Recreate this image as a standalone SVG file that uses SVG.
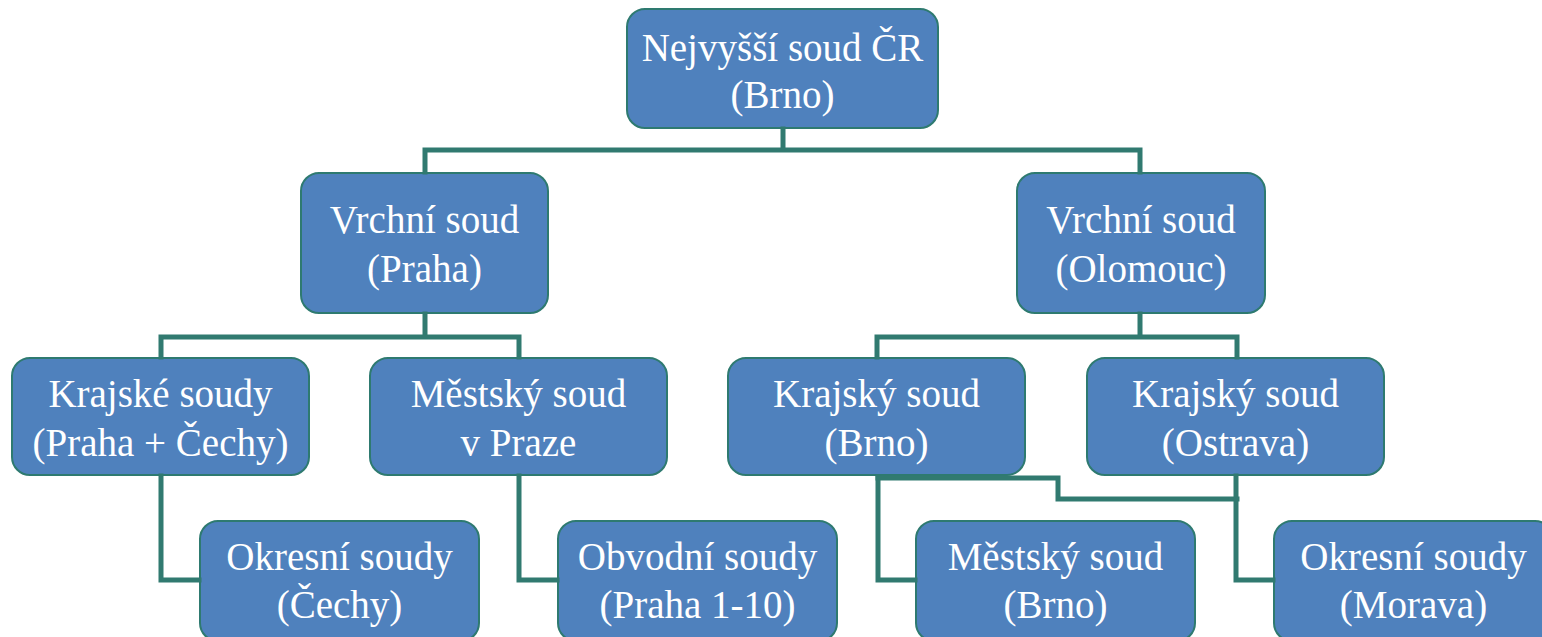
<svg xmlns="http://www.w3.org/2000/svg" width="1542" height="637" viewBox="0 0 1542 637">
<rect width="1542" height="637" fill="#FFFFFF"/>
<g id="nodes" font-family="Liberation Serif" font-size="39" text-anchor="middle" stroke-width="2">
<g id="n-nejvyssi"><rect fill="#4F81BD" stroke="#2E7A70" x="627" y="9" width="311" height="119" rx="18"/><text fill="#FFFFFF" x="782.5" y="61">Nejvyšší soud ČR</text><text fill="#FFFFFF" x="782.5" y="108">(Brno)</text></g>
<g id="n-vrchni-praha"><rect fill="#4F81BD" stroke="#2E7A70" x="301" y="173" width="247" height="140" rx="18"/><text fill="#FFFFFF" x="424.5" y="233">Vrchní soud</text><text fill="#FFFFFF" x="424.5" y="282">(Praha)</text></g>
<g id="n-vrchni-olomouc"><rect fill="#4F81BD" stroke="#2E7A70" x="1017" y="173" width="248" height="140" rx="18"/><text fill="#FFFFFF" x="1141" y="233">Vrchní soud</text><text fill="#FFFFFF" x="1141" y="282">(Olomouc)</text></g>
<g id="n-krajske"><rect fill="#4F81BD" stroke="#2E7A70" x="12" y="358" width="297" height="117" rx="18"/><text fill="#FFFFFF" x="160.5" y="407">Krajské soudy</text><text fill="#FFFFFF" x="160.5" y="456">(Praha + Čechy)</text></g>
<g id="n-mestsky-praha"><rect fill="#4F81BD" stroke="#2E7A70" x="370" y="358" width="297" height="117" rx="18"/><text fill="#FFFFFF" x="518.5" y="407">Městský soud</text><text fill="#FFFFFF" x="518.5" y="456">v Praze</text></g>
<g id="n-krajsky-brno"><rect fill="#4F81BD" stroke="#2E7A70" x="728" y="358" width="297" height="117" rx="18"/><text fill="#FFFFFF" x="876.5" y="407">Krajský soud</text><text fill="#FFFFFF" x="876.5" y="456">(Brno)</text></g>
<g id="n-krajsky-ostrava"><rect fill="#4F81BD" stroke="#2E7A70" x="1087" y="358" width="297" height="117" rx="18"/><text fill="#FFFFFF" x="1235.5" y="407">Krajský soud</text><text fill="#FFFFFF" x="1235.5" y="456">(Ostrava)</text></g>
<g id="n-okresni-cechy"><rect fill="#4F81BD" stroke="#2E7A70" x="200" y="521" width="279" height="120" rx="18"/><text fill="#FFFFFF" x="339.5" y="570">Okresní soudy</text><text fill="#FFFFFF" x="339.5" y="618">(Čechy)</text></g>
<g id="n-obvodni"><rect fill="#4F81BD" stroke="#2E7A70" x="558" y="521" width="279" height="120" rx="18"/><text fill="#FFFFFF" x="697.5" y="570">Obvodní soudy</text><text fill="#FFFFFF" x="697.5" y="618">(Praha 1-10)</text></g>
<g id="n-mestsky-brno"><rect fill="#4F81BD" stroke="#2E7A70" x="916" y="521" width="279" height="120" rx="18"/><text fill="#FFFFFF" x="1055.5" y="570">Městský soud</text><text fill="#FFFFFF" x="1055.5" y="618">(Brno)</text></g>
<g id="n-okresni-morava"><rect fill="#4F81BD" stroke="#2E7A70" x="1274" y="521" width="279" height="120" rx="18"/><text fill="#FFFFFF" x="1413.5" y="570">Okresní soudy</text><text fill="#FFFFFF" x="1413.5" y="618">(Morava)</text></g>
</g>
<g id="connectors" fill="none" stroke="#317A70" stroke-width="5" stroke-linecap="square">
<path d="M783 129 V150 M425 150 H1140 M425 150 V172 M1140 150 V172"/>
<path d="M425 314 V337 M161 337 H519 M161 337 V357 M519 337 V357"/>
<path d="M1140 314 V337 M877 337 H1237 M877 337 V357 M1237 337 V357"/>
<path d="M161 476 V580 H199"/>
<path d="M519 476 V580 H557"/>
<path d="M878 478 V580 H915"/>
<path d="M878 478 H1058 V499 H1237"/>
<path d="M1236 476 V580 H1273"/>
</g>
</svg>
